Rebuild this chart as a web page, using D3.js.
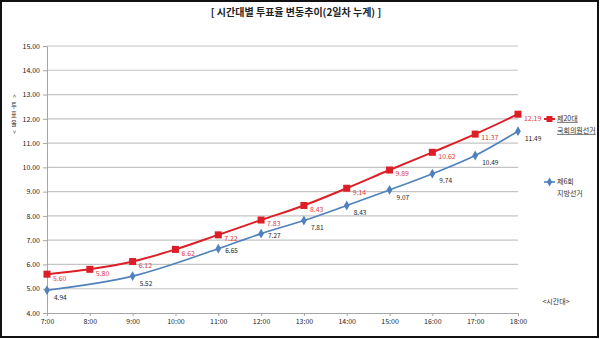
<!DOCTYPE html>
<html><head><meta charset="utf-8">
<script src="https://cdn.jsdelivr.net/npm/d3@7"></script>
<style>body{margin:0;background:#fff}svg{display:block}text{font-family:"Noto Sans CJK KR","Noto Sans",sans-serif}</style>
</head><body><svg id="c" width="600" height="339"></svg>
<script>
const times = ["7:00","8:00","9:00","10:00","11:00","12:00","13:00","14:00","15:00","16:00","17:00","18:00"];
const seriesNames = [["제20대","국회의원선거"],["제6회","지방선거"]];
const assembly20 = [5.60,5.80,6.12,6.62,7.22,7.83,8.43,9.14,9.89,10.62,11.37,12.19];
const local6 = [4.94,null,5.52,null,6.65,7.27,7.81,8.43,9.07,9.74,10.49,11.49];
const yTicks = [4,5,6,7,8,9,10,11,12,13,14,15];
const title = "[ 시간대별 투표율 변동추이(2일차 누계) ]";
const yTitle = "<투표율>";
const xTitle = "<시간대>";

const svg = d3.select("#c");
const x = d3.scalePoint().domain(times).range([47,518]);
const y = d3.scaleLinear().domain([4,15]).range([313,46]);

svg.append("rect").attr("x",1).attr("y",1).attr("width",597).attr("height",336)
  .attr("fill","#fff").attr("stroke","#111").attr("stroke-width",2);

svg.append("text").attr("x",296).attr("y",13).attr("text-anchor","middle")
  .attr("dominant-baseline","middle").attr("font-size",10).attr("font-weight","bold")
  .attr("fill","#222").text(title);

// grid
svg.append("g").selectAll("line").data(yTicks.slice(1)).join("line")
  .attr("x1",47).attr("x2",518).attr("y1",d=>y(d)).attr("y2",d=>y(d))
  .attr("stroke","#c4c4c4").attr("stroke-width",1.2);

// y axis
const ya = svg.append("g").attr("transform","translate(47,0)")
  .call(d3.axisLeft(y).tickValues(yTicks).tickFormat(d3.format(".2f")).tickSize(4).tickPadding(3));
ya.select(".domain").attr("stroke","#a6a6a6");
ya.selectAll(".tick line").attr("stroke","#a6a6a6");
ya.selectAll("text").attr("font-size",7).attr("fill","#222");

// x axis
const xa = svg.append("g").attr("transform","translate(0,313)")
  .call(d3.axisBottom(x).tickSize(3).tickPadding(3));
xa.select(".domain").attr("stroke","#a6a6a6");
xa.selectAll(".tick line").attr("stroke","#a6a6a6");
xa.selectAll("text").attr("font-size",7).attr("fill","#222");

// axis titles (stacked characters)
const yt = svg.append("g");
Array.from(yTitle).forEach((ch,i)=>{
  const cy = 96 + i*9;
  const t = yt.append("text").attr("x",14).attr("y",cy).attr("text-anchor","middle")
    .attr("dominant-baseline","central").attr("font-size",6.3).attr("fill","#333").text(ch);
  if(ch==="<"||ch===">") t.attr("transform",`rotate(90,14,${cy})`);
});
svg.append("text").attr("x",556).attr("y",302).attr("text-anchor","middle")
  .attr("dominant-baseline","middle").attr("font-size",7).attr("fill","#333").text(xTitle);

const line = d3.line().x(d=>x(d.t)).y(d=>y(d.v)).curve(d3.curveMonotoneX);
const redData = times.map((t,i)=>({t,v:assembly20[i]}));
const blueData = times.map((t,i)=>({t,v:local6[i]})).filter(d=>d.v!=null);

const red="#dc1f26", blue="#4f81bd";
svg.append("path").datum(blueData).attr("d",line).attr("fill","none").attr("stroke",blue).attr("stroke-width",1.6);
svg.append("path").datum(redData).attr("d",line).attr("fill","none").attr("stroke",red).attr("stroke-width",2);

const diamond = d3.symbol().type(d3.symbolDiamond).size(28);
svg.append("g").selectAll("path").data(blueData).join("path")
  .attr("transform",d=>`translate(${x(d.t)},${y(d.v)})`).attr("d",diamond).attr("fill",blue);
svg.append("g").selectAll("rect").data(redData).join("rect")
  .attr("x",d=>x(d.t)-3.5).attr("y",d=>y(d.v)-3.5).attr("width",7).attr("height",7).attr("fill",red);

// blue labels: pushed below when close to the red line
svg.append("g").selectAll("text").data(blueData).join("text")
  .attr("x",d=>x(d.t)+7)
  .attr("y",d=>{ const gap = assembly20[times.indexOf(d.t)] - d.v; return y(d.v) + (gap > 0.6 ? 8 : 2.5); })
  .attr("dominant-baseline","middle")
  .attr("font-size",6.5).attr("fill","#222")
  .text(d=>d.v.toFixed(2));
svg.append("g").selectAll("text").data(redData).join("text")
  .attr("x",d=>x(d.t)+6).attr("y",d=>y(d.v)+4.5).attr("dominant-baseline","middle")
  .attr("font-size",6.9).attr("fill","#e0393e")
  .text(d=>d.v.toFixed(2));

// legend
const leg = [{c:red,y:119,m:"sq",u:true},{c:blue,y:182,m:"di",u:false}];
leg.forEach((l,i)=>{
  const g = svg.append("g");
  g.append("line").attr("x1",544).attr("x2",555).attr("y1",l.y).attr("y2",l.y).attr("stroke",l.c).attr("stroke-width",i?1.6:2);
  if(l.m==="sq") g.append("rect").attr("x",546.5).attr("y",l.y-3).attr("width",6).attr("height",6).attr("fill",l.c);
  else g.append("path").attr("transform",`translate(549.5,${l.y})`).attr("d",d3.symbol().type(d3.symbolDiamond).size(24)).attr("fill",l.c);
  seriesNames[i].forEach((s,j)=>{
    g.append("text").attr("x",557).attr("y",l.y+j*12).attr("dominant-baseline","middle")
      .attr("font-size",7).attr("fill","#333")
      .attr("text-decoration",l.u?"underline":null).text(s);
  });
});
</script></body></html>
